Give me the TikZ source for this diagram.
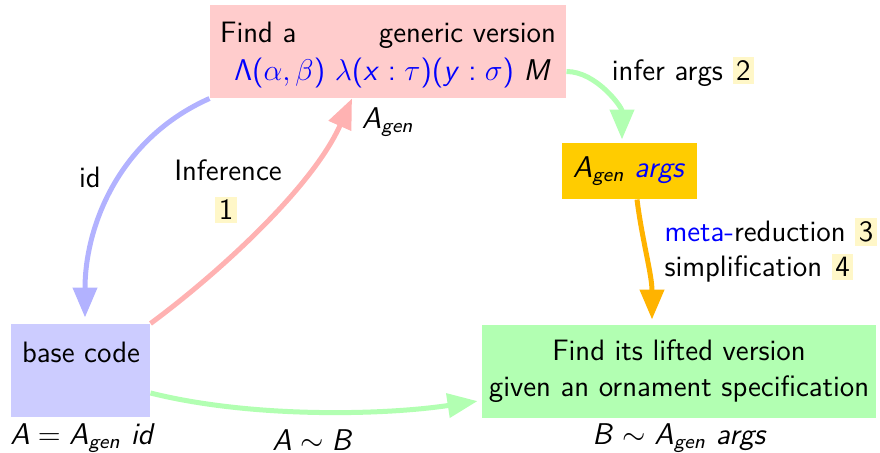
\documentclass[tikz,border=0pt]{standalone}
\usetikzlibrary{arrows.meta}
\DeclareSymbolFont{operators}{OT1}{cmss}{m}{n}
\DeclareMathAlphabet{\mathsfit}{OT1}{cmss}{m}{sl}
\definecolor{boxorange}{RGB}{255,204,0}
\definecolor{arrorange}{RGB}{255,179,0}
\definecolor{badge}{RGB}{255,247,200}
\newcommand\Agen{\mathsfit{A}_{\mathsfit{gen}}}
\newcommand\badgenum[1]{{\fboxsep=1.4pt\colorbox{badge}{#1}}}
\begin{document}
\begin{tikzpicture}[x=0.4pt,y=-0.4pt,
  every node/.style={font=\sffamily\fontsize{11.8}{14.4}\selectfont, inner sep=0pt},
  conn/.style={line width=2pt, -{Triangle[length=12pt,width=9.5pt]}},
]
\useasboundingbox (0,0) rectangle (880,453);
% boxes
\node[fill=red!20, minimum width=142.4pt, minimum height=37.2pt] (gen) at (388,51.5) {};
\node[align=center] (gentxt) at (388,55)
  {Find a\hspace{33pt}generic version\\[0.5pt]
   \hspace*{4pt}{\color{blue}$\Lambda(\alpha,\beta)$ $\lambda(\mathsfit{x}:\tau)(\mathsfit{y}:\sigma)$} $\mathsfit{M}$};
\node[fill=blue!20, minimum width=55.6pt, minimum height=37.2pt] (base) at (80.5,370.5) {};
\node (basetxt) at (81,352) {base code};
\node[fill=boxorange, minimum width=54pt, minimum height=22.4pt] (args) at (629.5,171) {$\Agen$ {\color{blue}$\mathsfit{args}$}};
\node[fill=green!30, minimum width=157.6pt, minimum height=37.2pt, align=center] (lifted) at (679,371.5)
  {Find its lifted version\\given an ornament specification};
% labels
\node (agenlbl) at (388,122) {$\Agen$};
\node (idlbl) at (90,177) {id};
\node (inflbl) at (228,170) {Inference};
\node (b1) at (226,210) {\badgenum{1}};
\node (inferargs) at (683,72) {infer args \badgenum{2}};
\node[anchor=west] (metared) at (664,232) {{\color{blue}meta-}reduction \badgenum{3}};
\node[anchor=west] (simpl) at (664,268) {simplification \badgenum{4}};
\node (eqA) at (83,438) {$\mathsfit{A}=\Agen\ \mathsfit{id}$};
\node (simAB) at (313,440) {$\mathsfit{A}\sim\mathsfit{B}$};
\node (simB) at (680,438) {$\mathsfit{B}\sim\Agen\ \mathsfit{args}$};
% connectors
\draw[conn, blue!30, shorten >=2.4pt] (gen.south west) .. controls +(-90,40) and +(0,-98) .. ([xshift=1.8pt]base.north);
\draw[conn, red!30] (base.north east) .. controls +(65,-48) and +(-40,90) .. ([xshift=-14.4pt]gen.south);
\draw[conn, green!30, shorten >=1.2pt] ([yshift=-8pt]gen.east) .. controls +(30,0) and +(0,-35) .. ([xshift=-3pt]args.north);
\draw[conn, arrorange, shorten >=2pt] ([xshift=3pt]args.south) .. controls +(5,40) and +(0,-50) .. ([xshift=-10.8pt]lifted.north);
\draw[conn, green!30, shorten >=1.6pt] ([yshift=-9pt]base.east) .. controls +(100,25) and +(-100,15) .. ([yshift=-11.6pt]lifted.west);
\end{tikzpicture}
\end{document}
